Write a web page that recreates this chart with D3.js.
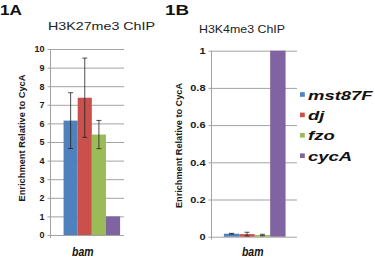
<!DOCTYPE html>
<html>
<head>
<meta charset="utf-8">
<script src="https://cdn.jsdelivr.net/npm/d3@7"></script>
<style>
  body { margin: 0; background: #fff; }
  svg { display: block; font-family: "Liberation Sans", Arial, sans-serif; }
</style>
</head>
<body>
<script>
// chart values
const categories = ["bam"]
const series = ["mst87F", "dj", "fzo", "cycA"]
const seriesColors = ["#4f81bd", "#c9504d", "#9bbb59", "#8064a2"]

// 1A: H3K27me3 ChIP
const k27Values = [6.15, 7.38, 5.4, 1.0]
const k27Errors = [1.5, 2.13, 0.76, 0]
const k27Ticks = [0, 1, 2, 3, 4, 5, 6, 7, 8, 9, 10]

// 1B: H3K4me3 ChIP
const k4Values = [0.016, 0.014, 0.009, 1.0]
const k4Errors = [0.002, 0.01, 0.004, 0]
const k4Ticks = [0, 0.2, 0.4, 0.6, 0.8, 1]

const yTitle = "Enrichment Relative to CycA"

const svg = d3.select("body").append("svg")
    .attr("width", 375)
    .attr("height", 257)

// squeeze / widen a text to a given width (the figure is stretched sideways)
function fitWidth(sel, w) {
    sel.attr("textLength", w).attr("lengthAdjust", "spacingAndGlyphs")
}
function stretch(sel, factor) {
    sel.each(function () {
        const len = this.getComputedTextLength()
        d3.select(this).attr("textLength", len * factor).attr("lengthAdjust", "spacingAndGlyphs")
    })
}

function drawPanel(p) {
    const g = svg.append("g")

    const yScale = d3.scaleLinear()
        .domain(p.domain)
        .range([p.bottom, p.top])

    const xScale = d3.scaleBand()
        .domain(categories)
        .range([p.left, p.right])
        .paddingInner(0)
        .paddingOuter(p.padOuter)
        .align(p.align)

    const sScale = d3.scaleBand()
        .domain(series)
        .range([0, xScale.bandwidth()])

    // gridlines
    const grid = g.append("g")
        .attr("transform", `translate(${p.left},0)`)
        .call(d3.axisLeft(yScale).tickValues(p.ticks).tickSize(-(p.right - p.left)).tickFormat(""))
    grid.select(".domain").remove()
    grid.selectAll(".tick line").attr("stroke", "#a3a3a3")

    // y axis with outside ticks and labels
    const yAxis = g.append("g")
        .attr("transform", `translate(${p.left},0)`)
        .call(d3.axisLeft(yScale).tickValues(p.ticks).tickSize(3).tickPadding(3).tickFormat(d3.format("~g")))
    yAxis.select(".domain").remove()
    yAxis.selectAll(".tick line").attr("stroke", "#a3a3a3")
    yAxis.selectAll(".tick text")
        .attr("fill", "#1a1a1a")
        .style("font-size", "9px")
        .style("font-weight", "bold")
        .call(stretch, p.tickStretch)

    g.append("line")
        .attr("x1", p.left).attr("x2", p.left)
        .attr("y1", p.top).attr("y2", p.bottom + 3)
        .attr("stroke", "#a3a3a3")

    // bars
    const groups = g.selectAll(".cat")
        .data(categories)
        .join("g")
        .attr("transform", d => `translate(${xScale(d)},0)`)

    groups.selectAll("rect")
        .data(series.map((s, i) => ({ s, v: p.values[i], c: seriesColors[i] })))
        .join("rect")
        .attr("x", d => sScale(d.s))
        .attr("width", sScale.bandwidth())
        .attr("y", d => yScale(d.v))
        .attr("height", d => yScale(0) - yScale(d.v))
        .attr("fill", d => d.c)

    // error bars
    const errs = series.map((s, i) => ({ s, v: p.values[i], e: p.errors[i] })).filter(d => d.e > 0)
    const eb = groups.selectAll(".err")
        .data(errs)
        .join("g")
        .attr("class", "err")
        .attr("transform", d => `translate(${sScale(d.s) + sScale.bandwidth() / 2},0)`)
    eb.append("line")
        .attr("y1", d => yScale(d.v - d.e)).attr("y2", d => yScale(d.v + d.e))
        .attr("stroke", "#222").attr("stroke-width", 0.8)
    eb.append("line")
        .attr("x1", -2.5).attr("x2", 2.5)
        .attr("y1", d => yScale(d.v + d.e)).attr("y2", d => yScale(d.v + d.e))
        .attr("stroke", "#222").attr("stroke-width", 0.8)
    eb.append("line")
        .attr("x1", -2.5).attr("x2", 2.5)
        .attr("y1", d => yScale(d.v - d.e)).attr("y2", d => yScale(d.v - d.e))
        .attr("stroke", "#222").attr("stroke-width", 0.8)

    // category label
    g.selectAll(".catLabel")
        .data(categories)
        .join("text")
        .attr("x", d => xScale(d) + xScale.bandwidth() / 2 + p.labelDx)
        .attr("y", 255.5)
        .attr("text-anchor", "middle")
        .style("font-size", "12.5px")
        .style("font-weight", "bold")
        .style("font-style", "italic")
        .attr("fill", "#111")
        .text(d => d)
        .call(fitWidth, 21.5)

    // y axis title
    g.append("text")
        .attr("transform", `translate(${p.yTitleX},${p.yTitleY}) rotate(-90)`)
        .attr("text-anchor", "middle")
        .attr("dy", "0.35em")
        .style("font-size", "8.5px")
        .style("font-weight", "bold")
        .attr("fill", "#1a1a1a")
        .text(yTitle)
        .call(fitWidth, p.yTitleLen)

    // chart title
    g.append("text")
        .attr("x", p.titleX)
        .attr("y", p.titleY)
        .style("font-size", "11.5px")
        .attr("fill", "#222")
        .text(p.title)
        .call(fitWidth, p.titleW)

    // panel letter
    g.append("text")
        .attr("x", p.letterX)
        .attr("y", 15)
        .style("font-size", "14px")
        .style("font-weight", "bold")
        .attr("fill", "#111")
        .text(p.letter)
        .call(fitWidth, p.letterW)
}

drawPanel({
    values: k27Values, errors: k27Errors, ticks: k27Ticks, domain: [0, 10],
    top: 49, bottom: 235, left: 50.5, right: 124,
    padOuter: 0.15, align: 0.77, tickStretch: 1.0, labelDx: -9,
    yTitleX: 21.7, yTitleY: 138, yTitleLen: 127,
    title: "H3K27me3 ChIP", titleX: 48, titleY: 29.5, titleW: 107,
    letter: "1A", letterX: 0, letterW: 22,
})

drawPanel({
    values: k4Values, errors: k4Errors, ticks: k4Ticks, domain: [0, 1],
    top: 50.7, bottom: 236.7, left: 211.5, right: 297,
    padOuter: 0.193, align: 0.52, tickStretch: 1.22, labelDx: -2,
    yTitleX: 179.3, yTitleY: 145.5, yTitleLen: 125,
    title: "H3K4me3 ChIP", titleX: 199, titleY: 33, titleW: 86,
    letter: "1B", letterX: 165, letterW: 24,
})

// legend for panel 1B
const legend = svg.append("g")
    .selectAll("g")
    .data(series)
    .join("g")
    .attr("transform", (d, i) => `translate(300,${99.5 + i * 20.4})`)

legend.append("rect")
    .attr("x", 0)
    .attr("y", -7.3)
    .attr("width", 4.8)
    .attr("height", 4.6)
    .attr("fill", (d, i) => seriesColors[i])

legend.append("text")
    .attr("x", 8)
    .attr("y", 0)
    .style("font-size", "13px")
    .style("font-weight", "bold")
    .style("font-style", "italic")
    .attr("fill", "#111")
    .text(d => d)
    .call(stretch, 1.42)
</script>
</body>
</html>
